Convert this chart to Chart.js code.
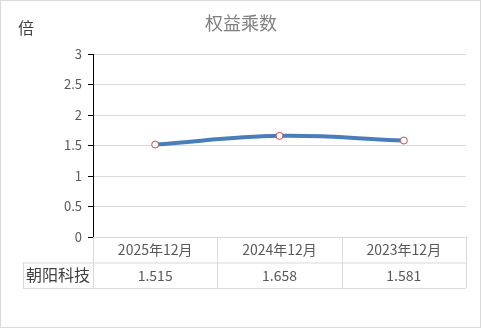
<!DOCTYPE html>
<html>
<head>
<meta charset="utf-8">
<script src="https://cdn.jsdelivr.net/npm/chart.js@4"></script>
<style>
    html, body { margin: 0; padding: 0; background: #fff; }
    #wrap { width: 481px; height: 328px; }
</style>
</head>
<body>
<div id="wrap"><canvas id="ratioChart" width="481" height="328"></canvas></div>
<script>
const categories = ['2025年12月', '2024年12月', '2023年12月'];
const seriesName = '朝阳科技';
const seriesValues = [1.515, 1.658, 1.581];
const yTicks = [0, 0.5, 1, 1.5, 2, 2.5, 3];

const FONT = '"Noto Sans CJK SC", "Noto Sans", sans-serif';

// title, unit, outer frame and the data table under the plot
const tablePlugin = {
    id: 'tablePlugin',
    afterDraw(chart) {
        const ctx = chart.ctx;
        const area = chart.chartArea;
        const x = chart.scales.x;
        const band = (area.right - area.left) / categories.length;
        const rowH = 25.5;
        const top = area.bottom;
        const headLeft = 23;

        ctx.save();
        ctx.strokeStyle = '#d9d9d9';
        ctx.lineWidth = 1;
        ctx.strokeRect(0.5, 0.5, chart.width - 1, chart.height - 1);

        // grid of the table
        ctx.beginPath();
        ctx.moveTo(area.left, top + 0.5);
        ctx.lineTo(area.right, top + 0.5);
        ctx.moveTo(headLeft, top + rowH + 0.5);
        ctx.lineTo(area.right, top + rowH + 0.5);
        ctx.moveTo(headLeft, top + rowH * 2 + 0.5);
        ctx.lineTo(area.right, top + rowH * 2 + 0.5);
        ctx.moveTo(headLeft + 0.5, top + rowH);
        ctx.lineTo(headLeft + 0.5, top + rowH * 2);
        for (let i = 0; i <= categories.length; i++) {
            const px = Math.round(area.left + band * i) + 0.5;
            ctx.moveTo(px, top);
            ctx.lineTo(px, top + rowH * 2);
        }
        ctx.stroke();

        ctx.textAlign = 'center';
        ctx.textBaseline = 'middle';
        ctx.fillStyle = '#595959';
        ctx.font = '14px ' + FONT;
        categories.forEach((c, i) => {
            const cx = x.getPixelForValue(i);
            ctx.fillText(c, cx, top + rowH / 2);
            ctx.fillText(seriesValues[i].toFixed(3), cx, top + rowH * 1.5);
        });
        ctx.fillStyle = '#404040';
        ctx.font = '16px ' + FONT;
        ctx.fillText(seriesName, (headLeft + area.left) / 2, top + rowH * 1.5);

        // title and unit
        ctx.fillStyle = '#808080';
        ctx.font = '18px ' + FONT;
        ctx.fillText('权益乘数', 241, 23);
        ctx.fillStyle = '#404040';
        ctx.font = '16px ' + FONT;
        ctx.fillText('倍', 26, 28);
        ctx.restore();
    }
};

const ctx = document.getElementById('ratioChart').getContext('2d');
new Chart(ctx, {
    type: 'line',
    data: {
        labels: categories,
        datasets: [{
            label: seriesName,
            data: seriesValues,
            borderColor: '#4a7ebb',
            borderWidth: 4,
            tension: 0.4,
            fill: false,
            pointRadius: 3.5,
            pointBorderWidth: 1,
            pointBackgroundColor: '#ffffff',
            pointBorderColor: '#c0504d',
        }]
    },
    options: {
        responsive: false,
        animation: false,
        events: [],
        layout: { padding: { top: 54, right: 15, bottom: 91, left: 0 } },
        plugins: {
            legend: { display: false },
            title: { display: false },
            tooltip: { enabled: false }
        },
        scales: {
            x: {
                display: false,
                offset: true
            },
            y: {
                min: 0,
                max: 3,
                afterFit(scale) { scale.width = 93; },
                afterBuildTicks(scale) { scale.ticks = yTicks.map(v => ({ value: v })); },
                ticks: {
                    color: '#595959',
                    font: { family: FONT, size: 13 },
                    padding: 6,
                    callback: v => String(v)
                },
                grid: {
                    color: '#d9d9d9',
                    tickColor: '#000000',
                    tickLength: 5,
                    drawTicks: true
                },
                border: { display: true, color: '#000000', width: 1 }
            }
        }
    },
    plugins: [tablePlugin]
});
</script>
</body>
</html>
